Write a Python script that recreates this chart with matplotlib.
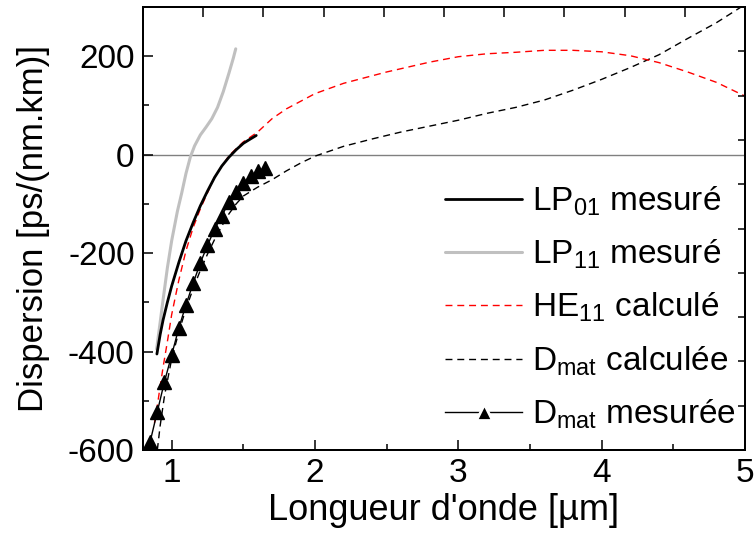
import numpy as np
import matplotlib
matplotlib.use("Agg")
import matplotlib.pyplot as plt
from matplotlib.lines import Line2D
from matplotlib.ticker import MultipleLocator

plt.rcParams['font.family'] = ['Liberation Sans', 'DejaVu Sans']
plt.rcParams['mathtext.default'] = 'regular'
plt.rcParams['axes.unicode_minus'] = False

# ---- data ----
lp01_x = [0.897, 0.92, 0.94, 0.97, 1.00, 1.05, 1.10, 1.15, 1.20, 1.25, 1.30, 1.35, 1.40, 1.45, 1.50, 1.55, 1.59]
lp01_y = [-405, -365, -336, -300, -267, -219, -175, -138, -104, -74, -46, -23, -5, 10, 23, 32, 39]

lp11_x = [0.895, 0.92, 0.94, 0.97, 1.00, 1.04, 1.07, 1.10, 1.13, 1.16, 1.20, 1.24, 1.28, 1.32, 1.36, 1.40, 1.43, 1.447]
lp11_y = [-395, -340, -295, -230, -175, -115, -78, -38, -5, 18, 40, 56, 73, 96, 128, 166, 196, 215]

he11_x = [0.88, 0.90, 0.92, 0.94, 0.97, 1.00, 1.05, 1.10, 1.15, 1.20, 1.30, 1.40, 1.50, 1.60, 1.70, 1.80,
          2.00, 2.20, 2.50, 2.80, 3.00, 3.20, 3.40, 3.60, 3.80, 4.00, 4.20, 4.40, 4.60, 4.80, 5.00]
he11_y = [-545, -510, -470, -432, -380, -325, -255, -195, -148, -110, -45, -2, 26, 46, 73, 93,
          124, 145, 168, 188, 199, 205, 208, 212, 212, 209, 201, 187, 168, 147, 119]

dmat_calc_x = [0.90, 0.92, 0.95, 1.00, 1.05, 1.10, 1.15, 1.20, 1.25, 1.30, 1.35, 1.40, 1.45, 1.50, 1.55, 1.60,
               1.70, 1.80, 1.90, 2.00, 2.20, 2.40, 2.60, 2.80, 3.00, 3.20, 3.40, 3.60, 3.80, 4.00, 4.20,
               4.40, 4.60, 4.80, 5.00]
dmat_calc_y = [-600, -550, -490, -415, -360, -313, -272, -235, -202, -172, -145, -120, -100, -84, -75, -66,
               -51, -33, -17, -3, 17, 32, 46, 58, 70, 84, 96, 111, 131, 153, 177,
               203, 236, 268, 305]

dmat_meas_x = [0.85, 0.90, 0.95, 1.00, 1.05, 1.10, 1.15, 1.20, 1.25, 1.30, 1.35, 1.40, 1.45, 1.50, 1.55, 1.60, 1.65]
dmat_meas_y = [-583, -522, -461, -407, -352, -305, -261, -220, -184, -151, -124, -97, -75, -57, -44, -34, -27]

labels = ['LP$_{01}$ mesuré', 'LP$_{11}$ mesuré', 'HE$_{11}$ calculé',
          'D$_{mat}$ calculée', 'D$_{mat}$ mesurée']

fig = plt.figure(figsize=(7.55, 5.38), dpi=100)
ax = fig.add_axes([143/755, 88/538, 602/755, 443/538])

ax.axhline(0, color='#808080', lw=1.0, zorder=1)

dash = (0, (5, 3.5))
l_meas, = ax.plot(dmat_meas_x, dmat_meas_y, color='black', lw=1.0, marker='^', ms=10, zorder=3)
l_calc, = ax.plot(dmat_calc_x, dmat_calc_y, color='black', lw=1.0, ls=dash, zorder=2)
l_he, = ax.plot(he11_x, he11_y, color='red', lw=1.0, ls=dash, zorder=2)
l_lp11, = ax.plot(lp11_x, lp11_y, color='#c0c0c0', lw=2.2, zorder=4, solid_capstyle='round')
l_lp01, = ax.plot(lp01_x, lp01_y, color='black', lw=2.0, zorder=5, solid_capstyle='round')

ax.set_xlim(0.8, 5)
ax.set_ylim(-600, 300)
ax.xaxis.set_major_locator(MultipleLocator(1))
ax.xaxis.set_minor_locator(MultipleLocator(0.5))
ax.yaxis.set_major_locator(MultipleLocator(200))
ax.yaxis.set_minor_locator(MultipleLocator(100))
ax.tick_params(which='both', direction='in', top=False, right=False, labelsize=24, width=1.1)
ax.tick_params(which='major', length=7, pad=6)
ax.tick_params(which='minor', length=4)
for s in ax.spines.values():
    s.set_linewidth(1.4)

# evenly divided ticks on the top and right frames
axt = ax.twiny()
axt.set_xlim(0, 1)
axt.set_xticks(np.arange(1, 10) / 10)
axt.tick_params(axis='x', direction='in', length=7, width=1.1, labeltop=False)
axr = ax.twinx()
axr.set_ylim(0, 1)
axr.set_yticks(np.arange(1, 10) / 10)
axr.tick_params(axis='y', direction='in', length=5, width=1.1, labelright=False)
for a in (axt, axr):
    for s in a.spines.values():
        s.set_linewidth(1.4)

ax.set_xlabel("Longueur d'onde [µm]", fontsize=26, labelpad=3)
ax.set_ylabel("Dispersion [ps/(nm.km)]", fontsize=25, labelpad=13)

h_meas = Line2D([], [], color='black', lw=1.0, marker='^', ms=11, mec='white', mew=2)
leg = axr.legend([l_lp01, l_lp11, l_he, l_calc, h_meas], labels,
                 loc='upper left', bbox_to_anchor=(0.502, 0.60), frameon=False,
                 fontsize=24, handlelength=2.3, handletextpad=0.3, labelspacing=0.6,
                 borderpad=0, borderaxespad=0)

fig.savefig('out.png', dpi=100)
